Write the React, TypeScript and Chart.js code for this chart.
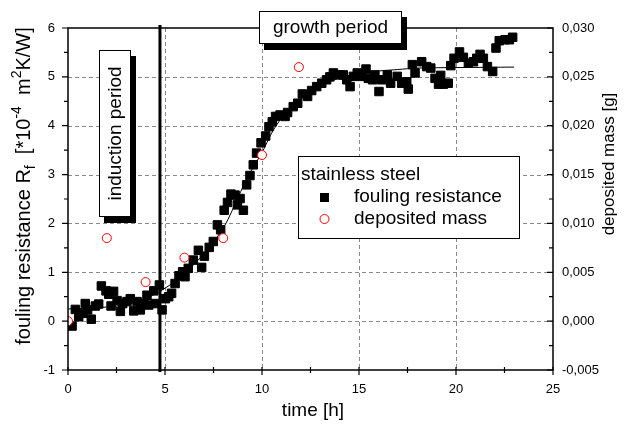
import React, { useEffect, useRef } from "react";
import { Chart, registerables } from "chart.js";

Chart.register(...registerables);

const FONT = "'Liberation Sans', Arial, sans-serif";

// fouling resistance R_f [*10^-4 m^2K/W] vs time [h]
const timeF = [0.21,0.38,0.55,0.76,0.89,1.01,1.20,1.41,1.58,1.72,
  1.96,2.10,2.22,2.35,2.53,2.70,2.82,3.04,3.21,3.39,
  3.56,3.73,3.90,4.07,4.16,4.42,4.50,4.71,4.85,5.02,
  5.19,5.34,5.52,5.72,5.91,6.03,6.20,6.46,6.72,6.89,
  7.03,7.28,7.49,7.70,7.87,8.05,8.22,8.40,8.61,8.73,
  8.87,9.04,9.21,9.38,9.55,9.72,9.95,10.19,10.36,10.53,
  10.70,10.93,11.19,11.32,11.61,11.84,12.08,12.35,12.56,12.82,
  13.08,13.33,13.50,13.68,13.94,14.19,14.37,14.54,14.71,14.91,
  15.14,15.36,15.48,15.70,15.82,16.03,16.17,16.46,16.63,16.97,
  17.20,17.46,17.54,17.75,17.89,18.23,18.49,18.70,18.92,19.10,
  19.21,19.35,19.60,19.73,19.90,20.18,20.38,20.64,20.90,21.07,
  21.24,21.41,21.62,21.89,22.06,22.23,22.53,22.75,22.92];
const foulR = [-0.10,0.24,0.09,0.16,0.36,0.23,0.04,0.31,0.35,0.72,
  0.62,0.55,0.31,0.61,0.42,0.20,0.36,0.40,0.46,0.21,
  0.40,0.23,0.36,0.53,0.33,0.62,0.36,0.74,0.23,0.46,
  0.50,0.57,0.77,0.93,1.01,0.91,1.08,1.25,1.45,1.10,
  1.33,1.51,1.63,1.97,1.87,2.27,2.43,2.60,2.58,2.38,
  2.51,2.27,2.79,2.98,3.20,3.44,3.65,3.79,3.98,4.08,
  4.19,4.22,4.19,4.27,4.39,4.46,4.65,4.60,4.72,4.80,
  4.87,4.94,5.00,5.08,5.04,5.04,4.94,4.80,5.01,5.08,
  5.01,5.16,4.97,4.94,5.04,4.70,4.94,5.04,4.87,5.01,
  4.87,4.90,4.75,5.25,5.08,5.31,5.21,5.18,4.97,4.85,
  5.03,4.85,4.87,5.23,5.38,5.51,5.40,5.28,5.31,5.38,
  5.46,5.38,5.21,5.11,5.59,5.74,5.76,5.76,5.81];

// fitted curve
const fitT = [0, 1, 2, 3, 4, 4.7, 5.7, 6.8, 8, 8.9, 9.4, 10, 10.5, 11, 12, 13, 14, 15, 16, 17, 18, 20, 23];
const fitR = [0.25, 0.26, 0.29, 0.34, 0.46, 0.6, 0.87, 1.29, 1.9, 2.65, 3.05, 3.45, 3.85, 4.15, 4.55, 4.82, 4.98, 5.07, 5.12, 5.15, 5.18, 5.19, 5.2];

// deposited mass [g]
const timeM = [0, 2, 4, 6, 8, 10, 11.9];
const massG = [0, 0.0085, 0.004, 0.0065, 0.0085, 0.017, 0.026];

// axes
const xTickVals = [0, 5, 10, 15, 20, 25];
const yTickVals = [-1, 0, 1, 2, 3, 4, 5, 6];
const y1TickVals = [-0.005, 0, 0.005, 0.01, 0.015, 0.02, 0.025, 0.03];
const y1TickLabels = ["-0,005", "0,000", "0,005", "0,010", "0,015", "0,020", "0,025", "0,030"];
const xGrid = [5, 10, 15, 20];
const yGrid = [0, 1, 2, 3, 4, 5];
const xMinor = [2.5, 7.5, 12.5, 17.5, 22.5];
const yMinor = [-0.5, 0.5, 1.5, 2.5, 3.5, 4.5, 5.5];
const inductionEnd = 4.74;

const legendTitle = "stainless steel";
const seriesNames = ["fouling resistance", "deposited mass"];

function drawRichRotated(ctx: CanvasRenderingContext2D, cx: number, cy: number, parts: { t: string; k: "n" | "sub" | "sup" }[], size: number) {
  const small = Math.round(size * 0.72);
  ctx.save();
  ctx.translate(cx, cy);
  ctx.rotate(-Math.PI / 2);
  ctx.textBaseline = "alphabetic";
  ctx.textAlign = "left";
  let total = 0;
  for (const p of parts) {
    ctx.font = `${p.k === "n" ? size : small}px ${FONT}`;
    total += ctx.measureText(p.t).width;
  }
  let x = -total / 2;
  const base = size * 0.36;
  for (const p of parts) {
    ctx.font = `${p.k === "n" ? size : small}px ${FONT}`;
    const dy = p.k === "sub" ? size * 0.22 : p.k === "sup" ? -size * 0.45 : 0;
    ctx.fillText(p.t, x, base + dy);
    x += ctx.measureText(p.t).width;
  }
  ctx.restore();
}

const deco = {
  id: "deco",
  beforeDatasetsDraw(chart: any) {
    const { ctx, chartArea: a, scales } = chart;
    const x = scales.x, y = scales.y;
    ctx.save();
    ctx.strokeStyle = "#8a8a8a";
    ctx.lineWidth = 1;
    ctx.setLineDash([4, 3]);
    for (const g of xGrid) {
      const px = Math.round(x.getPixelForValue(g)) + 0.5;
      ctx.beginPath(); ctx.moveTo(px, a.top); ctx.lineTo(px, a.bottom); ctx.stroke();
    }
    for (const g of yGrid) {
      const py = Math.round(y.getPixelForValue(g)) + 0.5;
      ctx.beginPath(); ctx.moveTo(a.left, py); ctx.lineTo(a.right, py); ctx.stroke();
    }
    ctx.restore();
  },
  afterDatasetsDraw(chart: any) {
    const { ctx, chartArea: a, scales } = chart;
    const x = scales.x, y = scales.y;
    ctx.save();
    // induction line
    const lx = x.getPixelForValue(inductionEnd);
    ctx.strokeStyle = "#000";
    ctx.lineWidth = 3;
    ctx.beginPath(); ctx.moveTo(lx, a.top - 3); ctx.lineTo(lx, a.bottom + 2); ctx.stroke();

    // frame
    ctx.lineWidth = 1.5;
    ctx.strokeRect(a.left, a.top, a.right - a.left, a.bottom - a.top);

    // ticks
    ctx.lineWidth = 1.2;
    ctx.beginPath();
    for (const v of yTickVals) {
      const py = y.getPixelForValue(v);
      ctx.moveTo(a.left - 6, py); ctx.lineTo(a.left, py);
      ctx.moveTo(a.right - 6, py); ctx.lineTo(a.right, py);
    }
    for (const v of yMinor) {
      const py = y.getPixelForValue(v);
      ctx.moveTo(a.left - 4, py); ctx.lineTo(a.left, py);
      ctx.moveTo(a.right - 4, py); ctx.lineTo(a.right, py);
    }
    for (const v of xTickVals) {
      const px = x.getPixelForValue(v);
      ctx.moveTo(px, a.bottom - 3); ctx.lineTo(px, a.bottom + 5);
    }
    for (const v of xMinor) {
      const px = x.getPixelForValue(v);
      ctx.moveTo(px, a.bottom - 3); ctx.lineTo(px, a.bottom + 3);
    }
    ctx.stroke();

    // annotation boxes with shadow
    const box = (L: number, T: number, R: number, B: number) => {
      ctx.fillStyle = "#000";
      ctx.fillRect(L + 5, T + 6, R - L, B - T);
      ctx.fillStyle = "#fff";
      ctx.fillRect(L, T, R - L, B - T);
      ctx.lineWidth = 1;
      ctx.strokeStyle = "#000";
      ctx.strokeRect(L + 0.5, T + 0.5, R - L - 1, B - T - 1);
    };
    box(259, 11, 402, 44);
    ctx.fillStyle = "#000";
    ctx.font = `19px ${FONT}`;
    ctx.textAlign = "center";
    ctx.textBaseline = "middle";
    ctx.fillText("growth period", 330.5, 28);

    box(99, 50, 131, 217);
    ctx.save();
    ctx.translate(116, 133.5);
    ctx.rotate(-Math.PI / 2);
    ctx.fillStyle = "#000";
    ctx.fillText("induction period", 0, 0);
    ctx.restore();

    // legend
    ctx.fillStyle = "#fff";
    ctx.fillRect(298, 156, 222, 83);
    ctx.strokeStyle = "#000";
    ctx.lineWidth = 1;
    ctx.strokeRect(298.5, 156.5, 221, 82);
    ctx.fillStyle = "#000";
    ctx.textAlign = "left";
    ctx.fillText(legendTitle, 301, 175);
    ctx.fillRect(320, 193, 9, 9);
    ctx.fillText(seriesNames[0], 354, 197);
    ctx.beginPath();
    ctx.arc(324.5, 219, 4.5, 0, Math.PI * 2);
    ctx.strokeStyle = "#ff0000";
    ctx.stroke();
    ctx.fillStyle = "#000";
    ctx.fillText(seriesNames[1], 354, 219);

    // axis titles
    ctx.textAlign = "center";
    ctx.fillText("time [h]", 313, 411);
    ctx.save();
    ctx.font = `17px ${FONT}`;
    ctx.translate(609, 164);
    ctx.rotate(-Math.PI / 2);
    ctx.fillText("deposited mass [g]", 0, 0);
    ctx.restore();
    drawRichRotated(ctx, 23, 186, [
      { t: "fouling resistance R", k: "n" },
      { t: "f", k: "sub" },
      { t: "  [*10", k: "n" },
      { t: "-4", k: "sup" },
      { t: "  m", k: "n" },
      { t: "2", k: "sup" },
      { t: "K/W]", k: "n" },
    ], 20);
    ctx.restore();
  },
};

export default function App() {
  const ref = useRef<HTMLCanvasElement | null>(null);
  useEffect(() => {
    if (!ref.current) return;
    const chart = new Chart(ref.current, {
      type: "scatter",
      data: {
        datasets: [
          {
            type: "line",
            label: "fit",
            data: fitT.map((t, i) => ({ x: t, y: fitR[i] })),
            borderColor: "#000",
            borderWidth: 1,
            pointRadius: 0,
            tension: 0.3,
            yAxisID: "y",
            order: 1,
          } as any,
          {
            label: seriesNames[0],
            data: timeF.map((t, i) => ({ x: t, y: foulR[i] })),
            pointStyle: "rect",
            pointRadius: 6,
            backgroundColor: "#000",
            borderColor: "#000",
            borderWidth: 1,
            yAxisID: "y",
            order: 2,
          },
          {
            label: seriesNames[1],
            data: timeM.map((t, i) => ({ x: t, y: massG[i] })),
            pointStyle: "circle",
            pointRadius: 4.5,
            backgroundColor: "#fff",
            borderColor: "#ff0000",
            borderWidth: 1,
            yAxisID: "y1",
            order: 0,
          },
        ],
      },
      options: {
        animation: false,
        responsive: false,
        devicePixelRatio: 1,
        layout: { padding: { top: 28, left: 0, right: 0, bottom: 0 } },
        plugins: { legend: { display: false }, tooltip: { enabled: false } },
        scales: {
          x: {
            type: "linear",
            min: 0,
            max: 25,
            afterBuildTicks: (s: any) => { s.ticks = xTickVals.map((v) => ({ value: v })); },
            afterFit: (s: any) => { s.height = 57; },
            ticks: { color: "#000", font: { size: 13, family: FONT }, padding: 12, maxRotation: 0 },
            grid: { display: false, drawTicks: false },
            border: { display: false },
          },
          y: {
            type: "linear",
            position: "left",
            min: -1,
            max: 6,
            afterBuildTicks: (s: any) => { s.ticks = yTickVals.map((v) => ({ value: v })); },
            afterFit: (s: any) => { s.width = 68; },
            ticks: { color: "#000", font: { size: 13, family: FONT }, padding: 13 },
            grid: { display: false, drawTicks: false },
            border: { display: false },
          },
          y1: {
            type: "linear",
            position: "right",
            min: -0.005,
            max: 0.03,
            afterBuildTicks: (s: any) => { s.ticks = y1TickVals.map((v) => ({ value: v })); },
            afterFit: (s: any) => { s.width = 71; },
            ticks: {
              color: "#000",
              font: { size: 13, family: FONT },
              padding: 9,
              callback: (_v: any, i: number) => y1TickLabels[i],
            },
            grid: { display: false, drawTicks: false },
            border: { display: false },
          },
        },
      },
      plugins: [deco],
    });
    return () => chart.destroy();
  }, []);
  return (
    <canvas
      ref={ref}
      width={624}
      height={427}
      style={{ position: "fixed", left: 0, top: 0, width: 624, height: 427 }}
    />
  );
}
